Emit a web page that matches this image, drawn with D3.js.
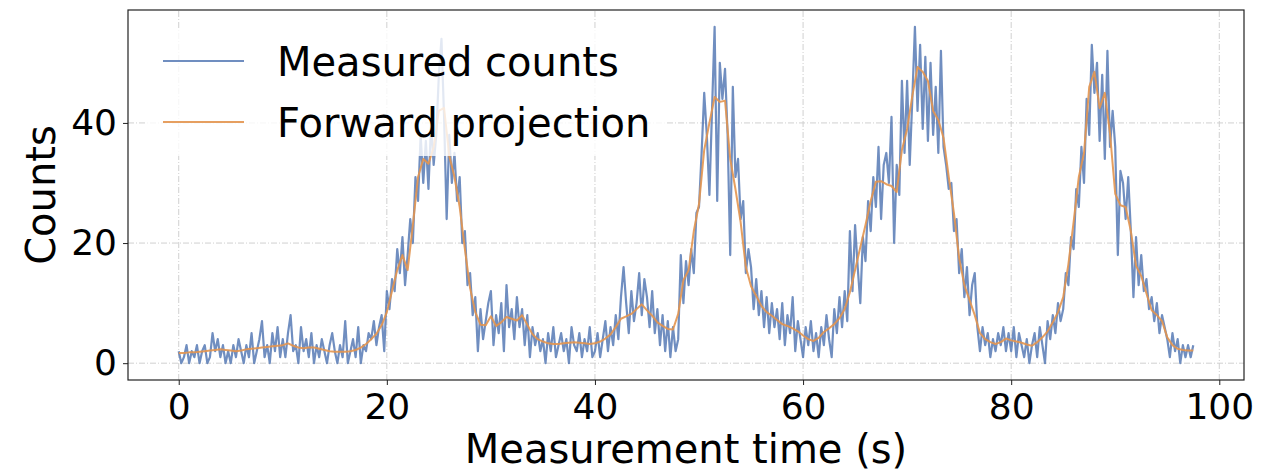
<!DOCTYPE html>
<html>
<head>
<meta charset="utf-8">
<script src="https://cdn.jsdelivr.net/npm/d3@7"></script>
<style>
    body { margin: 0; background: #fff; }
    svg { display: block; font-family: "DejaVu Sans", sans-serif; }
</style>
</head>
<body>
<div class="chart"></div>
<script>
const sampleStep = 0.25;
const projectionStep = 0.5;

const measuredCounts = [
    2, 0, 1, 3, 0, 2, 1, 3, 0, 2, 3, 0, 1, 5, 2, 4, 1, 3, 0, 2,
    0, 3, 1, 4, 2, 0, 3, 1, 5, 0, 2, 4, 7, 1, 3, 0, 5, 2, 6, 1,
    4, 1, 5, 8, 2, 3, 0, 6, 2, 4, 1, 5, 0, 3, 1, 4, 2, 0, 3, 5,
    2, 0, 3, 1, 7, 0, 2, 4, 1, 6, 0, 3, 2, 5, 4, 7, 3, 6, 8, 2,
    12, 9, 14, 12, 19, 15, 21, 13, 18, 24, 20, 31, 27, 38, 30, 37, 29, 40, 33, 38,
    48, 54, 41, 24, 38, 30, 35, 27, 31, 20, 22, 13, 15, 8, 11, 2, 9, 4, 7, 10,
    12, 3, 8, 5, 10, 2, 13, 6, 9, 4, 11, 6, 9, 3, 8, 1, 6, 3, 5, 2,
    4, 0, 5, 2, 6, 1, 3, 5, 2, 4, 0, 6, 3, 2, 5, 1, 4, 2, 6, 1,
    2, 5, 1, 4, 7, 2, 6, 3, 8, 4, 11, 16, 10, 5, 12, 7, 10, 15, 8, 14,
    11, 6, 12, 5, 9, 3, 8, 2, 7, 1, 6, 2, 4, 18, 10, 17, 13, 19, 15, 25,
    26, 35, 45, 38, 28, 42, 56, 27, 50, 44, 49, 38, 18, 46, 31, 34, 24, 27, 15, 19,
    16, 9, 14, 8, 12, 6, 11, 5, 10, 6, 9, 4, 10, 3, 8, 5, 11, 2, 7, 4,
    1, 6, 3, 7, 2, 5, 1, 6, 3, 8, 4, 1, 9, 5, 11, 6, 12, 7, 22, 12,
    23, 16, 10, 21, 17, 27, 22, 31, 26, 36, 24, 33, 35, 30, 41, 20, 33, 28, 47, 35,
    47, 33, 44, 56, 42, 53, 39, 51, 37, 50, 38, 46, 35, 52, 36, 33, 29, 30, 22, 24,
    15, 19, 11, 16, 8, 13, 15, 6, 2, 6, 3, 5, 1, 4, 2, 5, 3, 6, 2, 5,
    2, 6, 1, 5, 3, 1, 4, 0, 3, 5, 1, 6, 3, 0, 7, 4, 8, 5, 10, 7,
    9, 15, 13, 21, 19, 29, 26, 36, 30, 44, 38, 53, 45, 50, 37, 48, 34, 52, 36, 42,
    36, 18, 32, 30, 24, 31, 22, 11, 21, 13, 18, 12, 14, 9, 11, 7, 10, 5, 8, 6,
    4, 1, 5, 2, 4, 0, 3, 1, 3, 1, 3
];

const forwardProjection = [
    1.7, 1.7, 1.8, 1.8, 1.9, 2.0, 2.1, 2.2, 2.3, 2.2,
    2.1, 2.0, 2.1, 2.3, 2.4, 2.5, 2.6, 2.7, 2.8, 2.9,
    3.0, 3.3, 2.9, 2.6, 2.5, 2.6, 2.6, 2.4, 2.2, 2.0,
    1.9, 1.9, 1.9, 2.0, 2.2, 2.6, 3.2, 4.0, 4.9, 6.3,
    8.5, 12.0, 15.5, 18.0, 15.5, 23.0, 31.0, 34.0, 33.2, 36.0,
    42.0, 42.5, 34.5, 31.0, 26.0, 19.0, 12.5, 8.5, 6.4, 6.3,
    7.8, 6.2, 6.8, 7.7, 7.4, 7.1, 8.0, 6.4, 4.8, 4.0,
    3.6, 3.3, 3.2, 3.2, 3.3, 3.4, 3.5, 3.4, 3.3, 3.2,
    3.3, 3.6, 4.1, 4.8, 6.0, 7.4, 7.8, 8.2, 9.0, 9.8,
    8.8, 7.9, 6.8, 6.2, 5.7, 5.6, 8.2, 13.8, 15.5, 22.0,
    26.5, 35.5, 40.0, 44.3, 43.5, 43.7, 34.0, 29.0, 23.5, 16.0,
    12.8, 11.2, 9.5, 8.5, 7.9, 7.2, 6.5, 6.2, 5.8, 5.3,
    4.6, 4.0, 3.7, 4.2, 5.2, 5.8, 6.5, 7.5, 9.0, 11.8,
    15.5, 19.3, 23.0, 27.0, 30.2, 30.3, 29.8, 29.5, 28.5, 35.5,
    39.0, 44.5, 49.3, 48.5, 47.0, 42.0, 40.5, 37.5, 31.0, 25.0,
    17.5, 13.0, 10.5, 8.0, 5.0, 4.0, 3.5, 3.2, 3.5, 4.1,
    3.8, 3.6, 3.4, 3.1, 2.9, 3.5, 4.3, 5.3, 6.8, 8.5,
    11.0, 16.5, 23.5, 31.0, 35.0, 46.0, 48.5, 42.5, 45.0, 38.2,
    28.2, 26.3, 26.0, 22.0, 16.2, 14.5, 11.6, 8.8, 8.0, 7.0,
    4.3, 3.0, 2.4, 2.2, 2.1, 2.1
];

const xTicks = [0, 20, 40, 60, 80, 100];
const yTicks = [0, 20, 40];
const seriesNames = ["Measured counts", "Forward projection"];
const seriesColors = ["#4C72B0", "#E3954F"];

const width = 1271, height = 472;
const margin = {top: 10, right: 27, bottom: 92, left: 128};

function drawChart() {
    const svg = d3.select(".chart").append("svg")
        .attr("width", width)
        .attr("height", height);

    svg.append("rect").attr("width", width).attr("height", height).attr("fill", "#fff");

    const x = d3.scaleLinear()
        .domain([-4.875, 102.375])
        .range([margin.left, width - margin.right]);
    const y = d3.scaleLinear()
        .domain([-2.8, 58.8])
        .range([height - margin.bottom, margin.top]);

    const grid = svg.append("g")
        .attr("stroke", "#d0d0d0")
        .attr("stroke-width", 1)
        .attr("stroke-dasharray", "6,2,1,2");
    grid.selectAll(".vgrid").data(xTicks).join("line")
        .attr("x1", d => x(d)).attr("x2", d => x(d))
        .attr("y1", y.range()[0]).attr("y2", y.range()[1]);
    grid.selectAll(".hgrid").data(yTicks).join("line")
        .attr("x1", x.range()[0]).attr("x2", x.range()[1])
        .attr("y1", d => y(d)).attr("y2", d => y(d));

    const measured = measuredCounts.map((v, i) => [i * sampleStep, v]);
    const projected = forwardProjection.map((v, i) => [i * projectionStep, v]);
    const line = d3.line().x(d => x(d[0])).y(d => y(d[1]));

    svg.append("path")
        .datum(measured)
        .attr("fill", "none")
        .attr("stroke", seriesColors[0])
        .attr("stroke-opacity", 0.8)
        .attr("stroke-width", 2.2)
        .attr("stroke-linejoin", "round")
        .attr("d", line);

    svg.append("path")
        .datum(projected)
        .attr("fill", "none")
        .attr("stroke", seriesColors[1])
        .attr("stroke-opacity", 0.9)
        .attr("stroke-width", 2)
        .attr("stroke-linejoin", "round")
        .attr("d", line);

    svg.append("g")
        .attr("transform", `translate(0,${y.range()[0]})`)
        .call(d3.axisBottom(x).tickValues(xTicks).tickSize(5).tickPadding(8))
        .call(g => g.select(".domain").remove())
        .call(g => g.selectAll(".tick line").attr("stroke", "#222"))
        .call(g => g.selectAll("text").attr("font-size", 36).attr("fill", "#000")
            .attr("font-family", "DejaVu Sans"));

    svg.append("g")
        .attr("transform", `translate(${x.range()[0]},0)`)
        .call(d3.axisLeft(y).tickValues(yTicks).tickSize(5).tickPadding(6))
        .call(g => g.select(".domain").remove())
        .call(g => g.selectAll(".tick line").attr("stroke", "#222"))
        .call(g => g.selectAll("text").attr("font-size", 36).attr("fill", "#000")
            .attr("font-family", "DejaVu Sans"));

    svg.append("rect")
        .attr("x", x.range()[0]).attr("y", y.range()[1])
        .attr("width", x.range()[1] - x.range()[0])
        .attr("height", y.range()[0] - y.range()[1])
        .attr("fill", "none")
        .attr("stroke", "#222")
        .attr("stroke-width", 1.2);

    svg.append("text")
        .attr("x", (x.range()[0] + x.range()[1]) / 2)
        .attr("y", 463)
        .attr("text-anchor", "middle")
        .attr("font-size", 40)
        .text("Measurement time (s)");

    svg.append("text")
        .attr("transform", `translate(55,${(y.range()[0] + y.range()[1]) / 2}) rotate(-90)`)
        .attr("text-anchor", "middle")
        .attr("font-size", 40)
        .text("Counts");

    drawLegend(svg);
}

function drawLegend(svg) {
    const legend = svg.append("g");
    legend.append("rect")
        .attr("x", 146).attr("y", 28)
        .attr("width", 520).attr("height", 128)
        .attr("rx", 5)
        .attr("fill", "#fff")
        .attr("fill-opacity", 0.8);

    const rows = legend.selectAll(".row").data(seriesNames).join("g")
        .attr("transform", (d, i) => `translate(0,${61 + i * 61})`);
    rows.append("line")
        .attr("x1", 163).attr("x2", 244)
        .attr("stroke", (d, i) => seriesColors[i])
        .attr("stroke-opacity", (d, i) => i === 0 ? 0.8 : 0.9)
        .attr("stroke-width", 2);
    rows.append("text")
        .attr("x", 277).attr("y", 15)
        .attr("font-size", 40)
        .text(d => d);
}

drawChart();
</script>
</body>
</html>
